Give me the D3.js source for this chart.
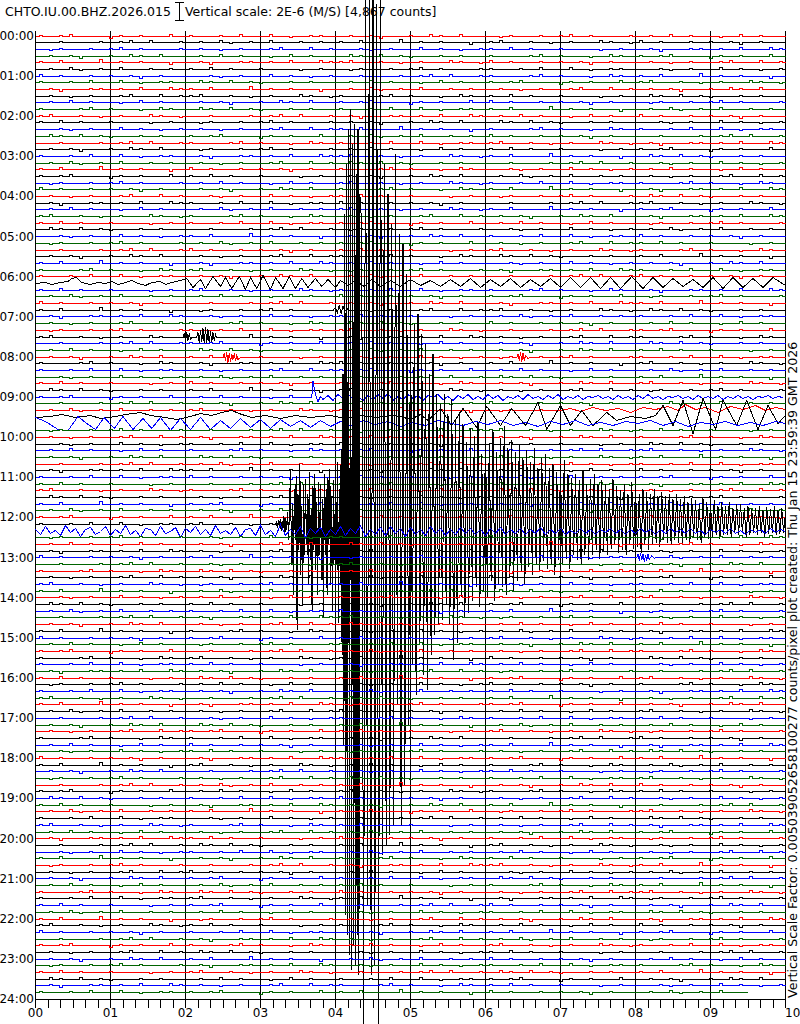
<!DOCTYPE html>
<html><head><meta charset="utf-8">
<script src="https://cdn.jsdelivr.net/npm/d3@7"></script>
<style>
html,body{margin:0;padding:0;background:#fff;}
svg{display:block;font-family:"DejaVu Sans",sans-serif;}
</style></head><body>
<svg id="chart" width="800" height="1024"></svg>
<script>
// ---------------- data ----------------
const stationTitle = "CHTO.IU.00.BHZ.2026.015";
const scaleTitle = "Vertical scale: 2E-6 (M/S) [4,867 counts]";
const sideNote = "Vertical Scale Factor: 0.005039052658100277 counts/pixel plot created: Thu Jan 15 23:59:39 GMT 2026";
const hourLabels = ["00:00","01:00","02:00","03:00","04:00","05:00","06:00","07:00","08:00","09:00","10:00","11:00",
  "12:00","13:00","14:00","15:00","16:00","17:00","18:00","19:00","20:00","21:00","22:00","23:00","24:00"];
const minuteLabels = ["00","01","02","03","04","05","06","07","08","09","10"];
const traceColors = ["#ff0000", "#000000", "#0000ff", "#006400"];
const secondsPerRow = 600;
const rowCount = 144;
const lastRowEndSec = 570;
const noiseStepSec = 8;

// background noise: 15-sample chunks (- flat, a..d up 1..4, A..D down 1..4), 5 chunks per trace
const noiseChunks = ["-a-aB--a-ba-b--","ab--a-A-a--ba-A","--aA-a--b-a-A-a","a-ab---Ba-a--b-",
  "-aB--aa-a-b--ba","-a-bA-a-b--a-a-","a---ab-a--A-ba-","-Aa--a-ab-a---a",
  "-ba-b-aA--a-a--","b-a--a-a-aB-a--","a--a-b--b-A-aa-","-a-A-a--ab--b-a",
  "--a---a-ab-b--a","a-b-a--a---A-a-","a-b---c-a-a--B-","-a-b-a--A-b-a--"];
const noiseRecipe = [
  "3a07f","c5e19","7b2d4","0f863","e419b","5d7a2","92c6e","a8f31","4e5b0","b16d8","f0397","68ae5",
  "1c4f9","d7082","2be6a","8359c","c6a14","07fd3","a41e8","5b8c2","e962f","3d05b","7f1a6","906e4",
  "b2d78","4a9c1","f51e3","16b04","da3f7","8c725","2e0a9","753bd","c9d16","0b68e","e4f20","6174a",
  "a05c9","38e2b","d1a64","5f937","9c04e","e7b18","42d5a","b689f","7a1c3","1e4b6","c3f08","f850d",
  "0d27a","649e1","ab3f5","25c8e","d9601","8e1b7","3f4a2","c0d95","51e7c","e826f","93ba0","7c41d",
  "b4f06","2a9d8","f63c1","0871e","c5b2a","4e0f9","a9d53","dc614","16f8b","8b2e7","e3a05","5079c",
  "3e8d1","a1c6f","d5f0b","72a94","f08e6","4b3c2","9e7a5","c21d0","68f4e","b0593","17e2a","e5c8d",
  "2f6b1","8d03c","5a9e7","c4172","0b8fd","e6254","93d1a","f7a0e","3c5b6","61e98","ad4f2","40b7c",
  "d8e31","7f296","a05d4","1c8eb","e4730","5b9f1","c26ad","08e5f","b3d17","6a0c9","f92e4","2d7b8",
  "94a3e","e1f65","0c2d7","7b8a1","c5e09","3f16d","8a9b2","d40ec","5e371","a2cf8","16db4","fb503",
  "4d9a7","c8e12","2a5fb","e06d3","7c41e","b9f25","03a8c","f5d6e","689b1","a1e47","d3c90","5f2a8",
  "e7b04","1d6f9","9a0e3","c4b57","36f1a","b82dc","0e59f","742a6","d1c8e","8fa30","4b6d2","a3e95"];

// [second in row, amplitude] vertices read from the record
const wave0610 = [[0,0],[8,1],[13,-1],[20,1],[26,2],[29,5],[33,6],[37,1],[44,-1],[50,1],[56,0],[61,2],[66,-1],[72,1],[77,3],[82,0],[88,-2],[93,1],[100,2],[104,-1],[109,1],[116,3],[121,5],[126,-4],[132,4],[136,-5],[142,7],[148,-3],[152,6],[157,-5],[163,7],[168,-6],[172,6],[177,-5],[182,8],[188,-6],[192,6],[198,-5],[203,7],[208,-5],[213,5],[218,-4],[224,5],[229,-3],[234,4],[240,-4],[244,3],[250,-2],[256,3],[263,-3],[269,4],[276,-3],[284,3],[292,-3],[300,4],[308,-2],[316,3],[324,-3],[332,4],[340,-3],[348,5],[356,-4],[364,4],[372,-3],[380,5],[388,-4],[396,4],[404,-3],[412,5],[420,-4],[428,6],[436,-4],[444,6],[452,-5],[460,6],[468,-5],[477,7],[486,-5],[494,6],[502,-4],[510,5],[518,-3],[526,4],[534,-4],[542,6],[550,-5],[558,6],[566,-4],[574,5],[582,-4],[590,6],[600,-2]];
const event0650 = [[238,0],[240,3],[241.5,-2],[243,5],[244.5,-3],[246,4],[247.5,-1],[249,2],[251,0]];
const event0730 = [[118,0],[119,4],[120,-4],[121,5],[122,-3],[123,4],[124,-2],[125,0],[129,0],[130,5],[131,-5],[132,7],[133,-4],[134,9],[135,-6],[136,10],[137,-5],[138,8],[139,-6],[140,6],[141,-4],[142,5],[143,-3],[144,3],[145,0]];
const event0800a = [[150,0],[151,4],[152,-3],[153,5],[154,-5],[155,4],[156,-4],[157,3],[158,-2],[159,4],[160,-3],[161,2],[162,-2],[164,0]];
const event0800b = [[385,0],[386,3],[387,-3],[388,5],[389,-4],[390,4],[391,-3],[392,2],[394,-1],[396,0]];
const onset0900 = [[221,0],[222,16],[224,3],[226,-4],[228,1]];
const coda0900 = [-2,2,-3,3,-1,4,-2,1,-3,2,-2,3,-1,4,-3,1,-2,3,-1,2,-3,2,0,3,-2,1,-3,2,-1,3,
  -2,1,-2,3,-1,2,-3,1,-1,2,-2,3,-1,1,-2,2,-1,3,-2,1,-1,2,-2,1,0,2,-1,1,-2,2,
  -1,1,-2,2,-1,3,-1,1,-2,1,0,2,-1,1,-2,2,-1,1,-1,2,-2,1,-1,2,-1,1,-2,1,0,2,-1,1,0];
const wave0920 = [[420,0],[428,2],[436,-1],[446,3],[456,0],[466,2],[476,-2],[486,3],[496,1],[506,4],[514,0],[520,6],[528,1],[536,3],[546,-2],[556,4],[566,1],[576,5],[584,0],[592,3],[600,1]];
const wave0930 = [[0,0],[12,1],[21,3],[32,0],[44,2],[52,-1],[64,1],[72,3],[84,5],[92,2],[104,0],[113,-2],[124,1],[132,4],[141,2],[149,5],[157,7],[165,3],[173,0],[184,2],[196,-1],[208,2],[220,0],[236,2],[248,-1],[260,2],[272,0],[284,2],
  [292,1],[300,-2],[308,3],[314,-3],[324,9],[333,-8],[342,9],[353,-10],[361,11],[372,-8],[381,9],[392,-8],[402,15],[409,-12],[420,12],[428,-8],[437,7],[446,-8],[457,5],[465,-3],[476,1],[488,-1],[496,2],[502,12],[510,-8],[518,17],[526,-16],[534,19],[544,-12],[550,17],[561,-8],[569,17],[578,-12],[586,12],[594,-6],[600,2]];
const wave0940 = [[0,6],[8,2],[18,-6],[26,-7],[34,7],[41,0],[48,-6],[55,6],[63,-5],[70,7],[78,-6],[86,5],[93,-5],[100,6],[108,-7],[116,5],[124,-6],[132,6],[140,-6],[148,3],[156,-5],[164,5],[172,-4],[180,4],[188,-5],[196,4],[204,-3],[212,3],[220,-4],[228,3],[236,-3],[244,2],[252,-2],[262,3],[272,-1],[282,2],[292,-3],[302,1],[312,-2],[322,3],[332,0],[342,-2],[352,2],[362,-1],[372,3],[382,-2],[392,1],[402,-3],[412,2],[422,-1],[432,3],[442,-2],[452,1],[462,-2],[472,2],[482,0],[492,3],[502,-2],[512,2],[522,-3],[532,1],[542,-1],[552,2],[562,-2],[572,1],[582,-2],[592,2],[600,0]];
// main event on the 12:10 trace: P and early S sampled every 0.75 s from 192 s, later part every 1.5 s from 261 s
const quakePS1210 = [0,2,-3,4,-2,5,-6,3,-4,8,-10,6,-5,12,-15,20,
  55,-40,20,-70,35,-15,48,-105,30,-25,60,-50,18,-80,40,-30,
  45,-20,30,-60,52,-35,15,-85,38,-25,50,-45,22,-70,42,-30,
  40,-55,25,-92,50,-30,35,-70,46,-20,55,-60,28,-86,44,-35,
  58,-40,62,-98,35,-60,75,-130,150,-220,310,-390,360,-410,395,-430,
  415,-445,380,-420,400,-440,350,-410,395,-450,330];
const quakeCoda1210 = [300,-540,
  540,-380,545,-450,560,-440,520,-540, 540,-330,360,-320,330,-310,300,-300,
  370,-180,290,-300,280,-260,250,-200, 230,-140,200,-170,210,-120,190,-150,
  180,-165,150,-130,170,-110,130,-100, 120,-95,130,-80,110,-100,125,-135,
  104,-118,112,-72,100,-92,82,-88, 96,-76,88,-62,102,-82,70,-66, 92,-72,80,-56,94,-76,72,-60, 86,-62,98,-70,76,-52,84,-66,
  72,-56,80,-46,66,-60,74,-42, 62,-50,76,-40,56,-46,66,-36, 70,-44,56,-40,60,-50,52,-35, 56,-40,64,-34,50,-44,46,-30,
  50,-35,44,-40,54,-30,40,-35, 45,-30,50,-25,40,-34,44,-26, 40,-30,35,-24,45,-20,38,-28, 34,-25,40,-30,30,-20,42,-24,
  38,-22,30,-28,35,-20,32,-25, 30,-20,35,-18,28,-22,32,-15, 28,-18,30,-20,25,-15,30,-18, 25,-20,28,-15,22,-18,26,-12,
  24,-15,20,-18,26,-12,22,-14, 20,-12,24,-10,18,-14,22,-10, 18,-10,22,-12,16,-8,20,-10, 20,-8,16,-12,18,-10,15,-8,
  16,-10,18,-8,14,-12,17,-9, 15,-8,18,-10,14,-9,16,-8, 12];
// 12:20 trace (coda), sampled every 4 s
const coda1220 = [2,-3,5,-2,1,-4,6,-1,3,-5,2,4,-3,0,5,-4,2,-2,6,-3,
  1,-5,3,2,-4,5,-2,0,4,-6,3,-1,5,-3,2,-4,6,-2,1,-3,
  4,-5,2,3,-4,6,-3,1,-5,7,-4,2,-3,5,-6,3,-2,4,-5,2,
  -3,5,-4,3,-2,6,-5,2,-3,4,-4,5,-2,3,-5,4,-3,2,-4,5,
  -2,3,-4,2,-3,4,-2,3,-3,2,-4,3,-2,4,-3,2,-2,3,-3,2,
  -2,4,-3,2,-2,3,-3,1,-2,3,-2,2,-3,2,-1,3,-2,2,-3,2,
  -2,3,-1,2,-3,2,-2,3,-1,2,-2,3,-2,1,-3,2,-1,2,-2,3,
  -2,1,-3,2,-1,2,-2,3,-1,2,0];
const event1300 = [[481,0],[482,3],[483,-3],[484,4],[485,-2],[486,3],[487,-4],[488,2],[489,-3],[490,3],[491,-2],[493,2],[495,-1],[496,0]];

// ---------------- drawing ----------------
const svg = d3.select("#chart");
const x = d3.scaleLinear().domain([0, secondsPerRow]).range([35.5, 785.5]);
const rowY = d3.scaleLinear().domain([0, rowCount]).range([36, 999.3]);
const hourY = d3.scaleLinear().domain([0, 24]).range([36, 999.3]);
const amp = d3.scaleLinear().domain([0, 1]).range([0, -1]);
const plotTop = 31, plotBottom = 999.5;

const segments = [
  {row: 37, pts: wave0610}, {row: 41, pts: event0650}, {row: 45, pts: event0730},
  {row: 48, pts: event0800a}, {row: 48, pts: event0800b}, {row: 54, pts: onset0900},
  {row: 54, start: 230, step: 4, vals: coda0900}, {row: 56, pts: wave0920},
  {row: 57, pts: wave0930}, {row: 58, pts: wave0940},
  {row: 73, start: 192, step: 0.75, vals: quakePS1210},
  {row: 73, start: 261, step: 1.5, vals: quakeCoda1210},
  {row: 74, start: 0, step: 4, vals: coda1220}, {row: 78, pts: event1300}
].map(s => {
  const pts = s.pts ? s.pts : s.vals.map((v, k) => [s.start + k * s.step, v]);
  return {row: s.row, pts, t0: pts[0][0], t1: pts[pts.length - 1][0]};
});
const code = {"-":0,a:1,b:2,c:3,d:4,A:-1,B:-2,C:-3,D:-4};

function rowPoints(i) {
  const segs = segments.filter(s => s.row === i);
  const str = noiseRecipe[i].split("").map(h => noiseChunks[parseInt(h, 16)]).join("");
  const end = i === rowCount - 1 ? lastRowEndSec : secondsPerRow;
  const n = Math.ceil(end / noiseStepSec);
  const pts = [];
  for (let k = 0; k < n; k++) {
    const s0 = k * noiseStepSec, s1 = Math.min((k + 1) * noiseStepSec, end);
    if (segs.some(g => s1 > g.t0 && s0 < g.t1)) continue;
    const v = code[str[k]] || 0;
    if (v === 0 || s1 - s0 < 6) { pts.push([s0, 0], [s1, 0]); continue; }
    pts.push([s0, 0], [s0 + 3, 0], [s0 + 3, v], [s0 + 5.5, v], [s0 + 5.5, 0], [s1, 0]);
  }
  segs.forEach(g => g.pts.forEach(p => pts.push(p)));
  pts.sort((a, b) => a[0] - b[0]);
  return pts;
}

// grid & frame
svg.append("g").selectAll("line").data(d3.range(0, 11)).join("line")
  .attr("x1", d => x(d * 60)).attr("x2", d => x(d * 60))
  .attr("y1", plotTop).attr("y2", plotBottom)
  .attr("stroke", "#000").attr("shape-rendering", "crispEdges");

// traces
const traces = svg.append("g").attr("fill", "none").attr("stroke-width", 1).attr("shape-rendering", "crispEdges");
for (let i = 0; i < rowCount; i++) {
  const base = Math.floor(rowY(i)) + 0.5;
  const line = d3.line().x(p => x(p[0])).y(p => base + amp(p[1]));
  traces.append("path").attr("d", line(rowPoints(i))).attr("stroke", traceColors[i % 4]);
}

// bottom axis
const xAxis = d3.axisBottom(x).tickValues(d3.range(0, 601, 10)).tickSize(8).tickSizeOuter(0).tickPadding(1).offset(0)
  .tickFormat(d => d % 60 === 0 ? minuteLabels[d / 60] : "");
const gx = svg.append("g").attr("transform", `translate(0,${plotBottom})`).call(xAxis);
gx.attr("font-family", "DejaVu Sans").attr("font-size", 12);
gx.selectAll("line,path").attr("shape-rendering", "crispEdges");
gx.selectAll(".tick text").filter(d => d === 600).attr("text-anchor", "start").attr("x", -0.5);

// left hour labels
const yAxis = d3.axisLeft(hourY).tickValues(d3.range(0, 25)).tickFormat(d => hourLabels[d]).tickSize(0).tickPadding(1.5).offset(0);
const gy = svg.append("g").attr("transform", "translate(35.5,0)").call(yAxis);
gy.attr("font-family", "DejaVu Sans").attr("font-size", 12);
gy.select(".domain").remove();

// header
svg.append("text").attr("x", 5).attr("y", 15.5).attr("font-size", 12.5).text(stationTitle);
svg.append("path").attr("d", "M175,2.5H184M179.5,2.5V20.5M175,20.5H184").attr("stroke", "#000").attr("fill", "none").attr("shape-rendering", "crispEdges");
svg.append("text").attr("x", 185).attr("y", 15.5).attr("font-size", 12.5).text(scaleTitle);

// side note
svg.append("text").attr("transform", "translate(796.5,998) rotate(-90)").attr("font-size", 12.6).text(sideNote);
</script>
</body></html>
